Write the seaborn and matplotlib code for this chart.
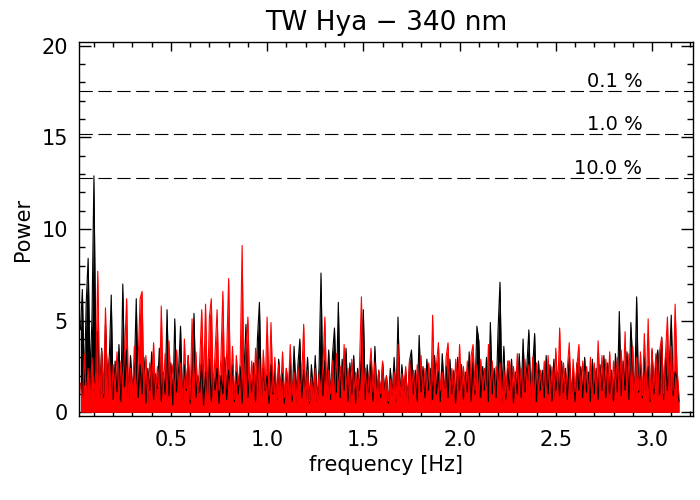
import numpy as np
import matplotlib
matplotlib.use("Agg")
import matplotlib.pyplot as plt
from matplotlib.ticker import MultipleLocator
import seaborn as sns

# frequency grid of the periodogram (Hz), 0.01 Hz steps
freq = np.round(0.02 + np.arange(1, 313) * 0.01, 2)

# power, black series (drawn first)
power_black = [
    4.5, 6.7, 1.5, 6.0, 8.4, 2.0, 5.2, 12.9, 3.0, 4.4,
    1.2, 3.5, 0.8, 4.8, 1.9, 3.0, 6.4, 0.7, 2.8, 1.1,
    3.7, 0.6, 7.0, 1.4, 3.4, 0.9, 3.1, 1.3, 2.2, 6.2,
    0.8, 2.6, 1.0, 3.0, 0.5, 2.4, 1.2, 3.3, 0.7, 2.1,
    1.3, 3.5, 0.6, 2.2, 1.0, 5.6, 0.9, 2.7, 0.4, 5.1,
    1.1, 2.3, 4.7, 0.7, 2.6, 1.2, 3.1, 0.5, 2.4, 5.4,
    0.8, 2.0, 1.1, 2.6, 0.4, 2.2, 1.0, 2.9, 0.6, 2.1,
    1.2, 2.4, 0.5, 2.0, 1.0, 3.0, 0.7, 2.3, 1.3, 2.6,
    0.6, 2.2, 1.0, 2.5, 0.5, 2.3, 4.8, 0.8, 2.1, 1.1,
    2.7, 0.6, 4.1, 6.0, 0.9, 2.4, 1.2, 2.0, 0.5, 2.6,
    1.0, 2.3, 0.7, 2.9, 1.2, 2.1, 0.5, 2.4, 1.0, 2.8,
    0.6, 3.6, 1.1, 2.6, 4.0, 0.8, 2.3, 1.2, 3.0, 0.5,
    2.6, 1.0, 3.1, 0.6, 2.5, 7.6, 0.9, 2.8, 1.3, 3.4,
    0.7, 3.2, 4.6, 1.1, 6.0, 0.8, 2.9, 1.2, 3.5, 0.6,
    2.7, 1.0, 3.1, 0.5, 2.4, 1.2, 2.8, 5.6, 0.7, 2.6,
    1.1, 3.0, 0.6, 3.6, 1.0, 2.3, 0.8, 2.7, 1.2, 2.0,
    0.5, 2.4, 1.0, 3.0, 0.6, 5.2, 0.9, 2.6, 1.2, 2.2,
    0.7, 2.8, 3.4, 1.0, 2.3, 0.6, 4.2, 1.1, 2.5, 0.8,
    2.9, 1.2, 2.4, 0.7, 3.1, 1.0, 2.2, 0.6, 3.2, 1.1,
    2.5, 0.8, 2.9, 1.0, 2.3, 0.5, 3.0, 1.2, 2.6, 0.7,
    2.2, 1.1, 3.3, 0.6, 2.7, 1.0, 4.7, 3.9, 0.8, 2.5,
    1.2, 3.0, 0.6, 4.9, 1.0, 2.4, 0.8, 4.5, 7.1, 1.1,
    3.6, 0.7, 2.4, 1.2, 2.9, 0.5, 2.2, 1.0, 3.2, 0.8,
    4.0, 1.1, 2.6, 4.5, 0.9, 2.5, 4.3, 0.6, 2.8, 1.2,
    2.3, 0.8, 3.1, 1.0, 2.6, 0.6, 2.9, 1.2, 2.2, 0.9,
    2.8, 1.1, 2.4, 0.7, 3.0, 1.0, 2.3, 0.6, 2.7, 1.2,
    2.5, 0.8, 3.0, 1.1, 2.2, 0.6, 2.9, 1.0, 2.4, 0.7,
    2.6, 1.2, 3.1, 0.8, 2.7, 1.0, 2.3, 0.6, 3.2, 1.1,
    5.5, 0.9, 2.8, 1.2, 3.3, 0.7, 4.9, 2.6, 1.0, 6.3,
    1.1, 2.7, 0.8, 3.0, 1.2, 2.5, 0.6, 3.4, 1.0, 2.8,
    3.4, 1.0, 4.1, 0.7, 3.0, 1.2, 2.6, 5.3, 0.9, 2.2,
    1.9, 0.6,
]

# power, red series (drawn on top)
power_red = [
    1.6, 0.3, 3.2, 0.8, 2.4, 0.5, 3.0, 1.1, 2.2, 7.7,
    0.6, 3.4, 1.0, 5.7, 0.9, 3.1, 0.4, 2.6, 1.2, 3.3,
    0.5, 2.8, 1.3, 3.5, 6.2, 0.7, 2.4, 1.0, 3.6, 0.6,
    2.9, 6.2, 6.6, 1.2, 3.1, 0.5, 2.7, 1.4, 3.8, 0.9,
    2.5, 0.7, 5.8, 1.1, 3.2, 0.6, 3.9, 1.3, 2.6, 0.8,
    3.4, 1.0, 2.7, 0.5, 4.0, 1.3, 3.1, 0.7, 5.1, 1.2,
    3.3, 0.9, 2.8, 5.6, 1.4, 5.9, 0.8, 5.2, 6.2, 1.0,
    3.4, 5.6, 1.2, 3.0, 6.6, 0.8, 3.3, 7.3, 1.1, 3.6,
    0.7, 3.1, 1.5, 2.7, 9.1, 0.9, 3.2, 5.2, 1.2, 2.8,
    0.6, 3.5, 1.0, 2.9, 0.5, 3.4, 1.3, 5.2, 0.9, 4.9,
    1.1, 3.0, 0.6, 2.6, 1.2, 3.3, 0.8, 2.4, 1.0, 3.7,
    0.9, 2.2, 0.5, 2.5, 1.1, 2.0, 4.8, 0.7, 2.3, 0.6,
    1.9, 0.8, 2.4, 0.5, 2.1, 1.0, 2.6, 5.2, 0.7, 2.3,
    1.0, 2.8, 0.6, 3.2, 1.1, 2.5, 0.8, 3.7, 1.3, 2.4,
    0.5, 2.9, 1.0, 2.2, 0.7, 2.6, 6.3, 0.9, 2.4, 0.6,
    2.1, 3.5, 1.1, 2.7, 0.5, 2.3, 1.0, 2.8, 0.7, 2.0,
    0.6, 1.8, 1.0, 2.2, 0.4, 3.7, 0.8, 2.1, 1.2, 2.5,
    0.5, 2.9, 1.1, 2.3, 0.7, 2.6, 1.3, 3.1, 0.6, 2.4,
    1.0, 2.7, 0.5, 5.3, 0.9, 2.6, 3.8, 1.2, 2.2, 0.7,
    3.0, 3.8, 1.1, 2.4, 0.6, 2.9, 1.0, 3.7, 0.8, 2.5,
    0.9, 2.8, 0.5, 3.1, 3.7, 1.2, 2.6, 0.7, 2.9, 1.1,
    2.4, 0.6, 3.7, 1.0, 2.8, 0.8, 2.5, 1.3, 2.7, 0.5,
    2.3, 1.0, 2.8, 2.8, 0.7, 2.5, 1.1, 3.2, 0.9, 2.4,
    0.6, 2.9, 1.2, 2.6, 0.8, 3.0, 0.5, 2.7, 1.1, 2.3,
    0.9, 2.8, 0.6, 3.1, 1.0, 2.5, 0.7, 3.5, 1.2, 4.6,
    0.8, 2.7, 1.0, 2.4, 3.8, 0.6, 2.9, 1.1, 2.6, 3.7,
    0.7, 2.8, 1.3, 2.5, 0.9, 3.0, 0.6, 2.7, 1.0, 3.9,
    1.2, 3.1, 0.8, 2.9, 1.0, 3.3, 0.6, 2.8, 1.3, 3.0,
    0.9, 3.4, 1.1, 4.4, 0.7, 3.2, 1.0, 3.6, 0.8, 3.0,
    1.2, 3.3, 0.9, 4.3, 1.1, 5.1, 0.7, 3.5, 1.3, 3.2,
    0.8, 3.4, 4.1, 1.0, 3.2, 5.2, 0.9, 3.6, 1.2, 5.9,
    2.4, 0.9,
]

# false alarm probability levels
fap_levels = [17.55, 15.16, 12.8]
fap_labels = ["0.1 %", "1.0 %", "10.0 %"]

sns.set_style("ticks", {"axes.edgecolor": "black", "text.color": "black",
                        "xtick.color": "black", "ytick.color": "black",
                        "axes.labelcolor": "black"})
plt.rcParams['font.family'] = ['DejaVu Sans']

fig = plt.figure(figsize=(7, 5), dpi=100)
ax = fig.add_axes([0.113, 0.168, 0.877, 0.748])

# dense periodogram look: line plus the area under it
for pw, col in [(power_black, 'black'), (power_red, 'red')]:
    ax.fill_between(freq, 0, pw, color=col, linewidth=0)
    sns.lineplot(x=freq, y=pw, ax=ax, color=col, linewidth=0.8,
                 estimator=None, sort=False)

for lev, lab in zip(fap_levels, fap_labels):
    ax.axhline(lev, color='black', linewidth=0.8, dashes=(12, 5))
    ax.text(2.95, lev, lab, ha='right', va='bottom', fontsize=14)

ax.set_xlim(0.023, 3.213)
ax.set_ylim(-0.2, 20.2)
ax.xaxis.set_minor_locator(MultipleLocator(0.1))
ax.yaxis.set_minor_locator(MultipleLocator(1))
ax.set_xticks([0.5, 1.0, 1.5, 2.0, 2.5, 3.0])
ax.set_yticks([0, 5, 10, 15, 20])

ax.tick_params(which='both', direction='in', top=True, right=True,
               labelsize=15, width=1, color='black')
ax.tick_params(axis='x', which='major', length=6.5, pad=10)
ax.tick_params(axis='x', which='minor', length=3.6)
ax.tick_params(axis='y', which='major', length=8.6, pad=8)
ax.tick_params(axis='y', which='minor', length=4.5)
for s in ax.spines.values():
    s.set_linewidth(1.0)
    s.set_visible(True)

ax.set_title("TW Hya \u2212 340 nm", fontsize=19, pad=9)
ax.set_xlabel("frequency [Hz]", fontsize=15)
ax.set_ylabel("Power", fontsize=15, labelpad=6)

fig.savefig("out.png", dpi=100)
